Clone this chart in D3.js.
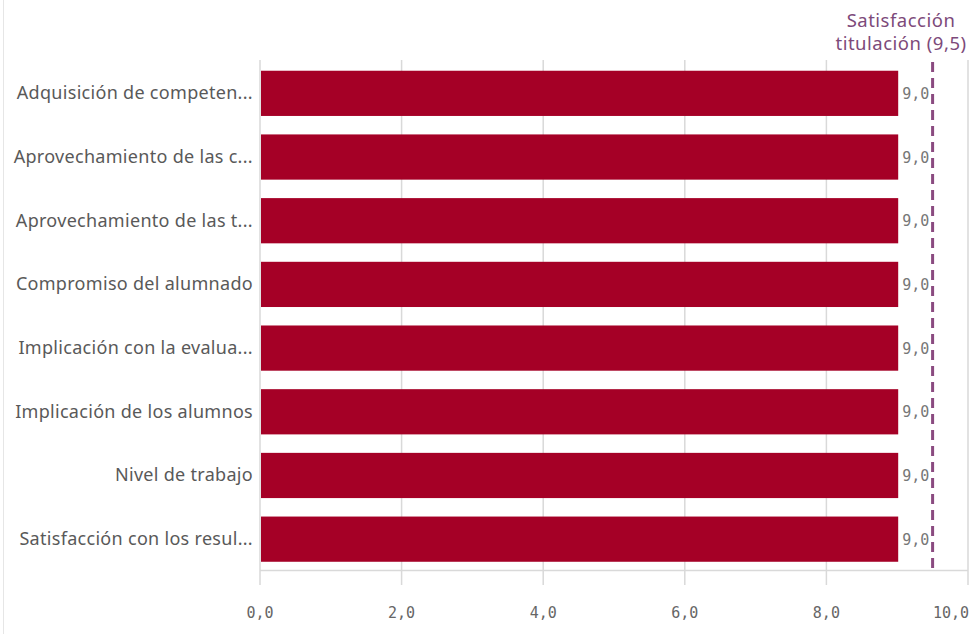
<!DOCTYPE html>
<html><head><meta charset="utf-8">
<script src="https://cdn.jsdelivr.net/npm/d3@7"></script>
<style>body{margin:0;background:#fff;}svg{display:block;}</style>
</head><body>
<svg id="c" width="969" height="634"></svg>
<script>
const categories = [
  "Adquisición de competen...",
  "Aprovechamiento de las c...",
  "Aprovechamiento de las t...",
  "Compromiso del alumnado",
  "Implicación con la evalua...",
  "Implicación de los alumnos",
  "Nivel de trabajo",
  "Satisfacción con los resul..."
];
const values = [9.0, 9.0, 9.0, 9.0, 9.0, 9.0, 9.0, 9.0];
const tickValues = [0, 2, 4, 6, 8, 10];
const refValue = 9.5;
const refLabel = ["Satisfacción", "titulación (9,5)"];

const fmt = v => d3.format(".1f")(v).replace(".", ",");
const svg = d3.select("#c");
const x = d3.scaleLinear().domain([0, 10]).range([260, 968]);
const y = d3.scaleBand().domain(categories).range([61.5, 571]).paddingInner(0.29).paddingOuter(0.145);

// page border
svg.append("line").attr("x1", 3.5).attr("x2", 3.5).attr("y1", 0).attr("y2", 634).attr("stroke", "#e6e6e6");

// gridlines
svg.append("g").selectAll("line").data(tickValues).join("line")
  .attr("x1", d => x(d)).attr("x2", d => x(d))
  .attr("y1", 60).attr("y2", 585)
  .attr("stroke", "#d9d9d9").attr("stroke-width", 1.5);
// axis baseline
svg.append("line").attr("x1", x(0)).attr("x2", x(10)).attr("y1", 570.5).attr("y2", 570.5)
  .attr("stroke", "#d9d9d9").attr("stroke-width", 1.5);

// x tick labels
svg.append("g").selectAll("text").data(tickValues).join("text")
  .attr("x", d => x(d)).attr("y", 613)
  .attr("text-anchor", d => d === 10 ? "end" : "middle")
  .attr("dx", d => d === 10 ? 1 : 0)
  .attr("dominant-baseline", "middle")
  .attr("font-family", "DejaVu Sans Mono").attr("font-size", 15).attr("fill", "#666")
  .text(d => fmt(d));

// bars
svg.append("g").selectAll("rect").data(values).join("rect")
  .attr("x", x(0) + 1).attr("y", (d, i) => y(categories[i]))
  .attr("width", d => x(d) - x(0)).attr("height", y.bandwidth())
  .attr("fill", "#a50026");

// value labels
svg.append("g").selectAll("text").data(values).join("text")
  .attr("x", d => x(d) + 5).attr("y", (d, i) => y(categories[i]) + y.bandwidth() / 2 + 1)
  .attr("dominant-baseline", "middle")
  .attr("font-family", "DejaVu Sans Mono").attr("font-size", 15).attr("fill", "#777")
  .text(d => fmt(d));

// category labels
svg.append("g").selectAll("text").data(categories).join("text")
  .attr("x", 253).attr("y", d => y(d) + y.bandwidth() / 2 + 1)
  .attr("text-anchor", "end").attr("dominant-baseline", "middle")
  .attr("font-family", "Noto Sans").attr("font-size", 18).attr("letter-spacing", 0.3).attr("fill", "#595959")
  .text(d => d);

// reference line
svg.append("line").attr("x1", x(refValue)).attr("x2", x(refValue))
  .attr("y1", 62).attr("y2", 568)
  .attr("stroke", "#8a4a80").attr("stroke-width", 3).attr("stroke-dasharray", "10,6");
svg.append("g").selectAll("text").data(refLabel).join("text")
  .attr("x", 901).attr("y", (d, i) => 22 + i * 23)
  .attr("text-anchor", "middle").attr("dominant-baseline", "middle")
  .attr("font-family", "Noto Sans").attr("font-size", 18.5).attr("letter-spacing", 0.5).attr("fill", "#7d4a7a")
  .text(d => d);
</script>
</body></html>
